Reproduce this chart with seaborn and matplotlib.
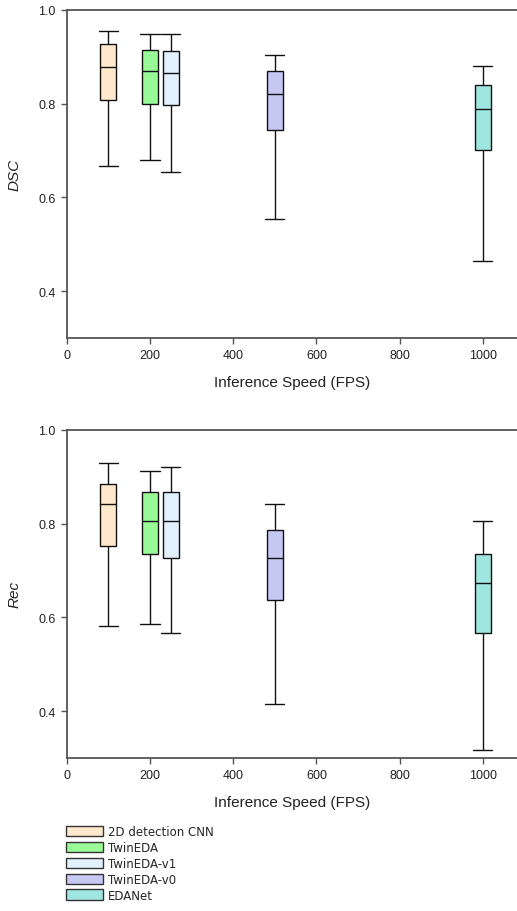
import numpy as np
import pandas as pd
import matplotlib
matplotlib.use("Agg")
import matplotlib.pyplot as plt
from matplotlib.patches import Patch
import seaborn as sns

# Models and their inference speed (FPS)
models = ["2D detection CNN", "TwinEDA", "TwinEDA-v1", "TwinEDA-v0", "EDANet"]
fps = [100, 200, 250, 500, 1000]

# Five-number summaries per model: [min, Q1, median, Q3, max]
dsc_2d = [0.667, 0.808, 0.877, 0.927, 0.955]
dsc_twin = [0.679, 0.799, 0.869, 0.914, 0.948]
dsc_v1 = [0.655, 0.797, 0.864, 0.913, 0.948]
dsc_v0 = [0.553, 0.744, 0.821, 0.870, 0.904]
dsc_eda = [0.465, 0.701, 0.788, 0.839, 0.881]

rec_2d = [0.582, 0.752, 0.841, 0.885, 0.930]
rec_twin = [0.585, 0.734, 0.806, 0.868, 0.911]
rec_v1 = [0.566, 0.726, 0.806, 0.868, 0.920]
rec_v0 = [0.415, 0.636, 0.726, 0.787, 0.841]
rec_eda = [0.317, 0.566, 0.673, 0.734, 0.806]

colors = ["#FFE8CC", "#98FB98", "#E1F1FF", "#C6C8F4", "#A0E6E0"]
palette = dict(zip(models, colors))


def frame(summaries, name):
    rows = []
    for m, f, vals in zip(models, fps, summaries):
        for v in vals:
            rows.append({"model": m, "fps": f, name: v})
    return pd.DataFrame(rows)


dsc_df = frame([dsc_2d, dsc_twin, dsc_v1, dsc_v0, dsc_eda], "DSC")
rec_df = frame([rec_2d, rec_twin, rec_v1, rec_v0, rec_eda], "Rec")

sns.set_theme(style="ticks")
plt.rcParams["font.family"] = ["Liberation Sans", "DejaVu Sans"]

W, H = 517, 912
fig = plt.figure(figsize=(W / 100, H / 100), dpi=100)

def axes_px(left, top, right, bottom):
    return fig.add_axes([left / W, 1 - bottom / H, (right - left) / W, (bottom - top) / H])

ax1 = axes_px(66.7, 10.7, 517, 339)
ax2 = axes_px(66.7, 430.7, 517, 759)

spine_col = "#555555"
for ax, df, col in [(ax1, dsc_df, "DSC"), (ax2, rec_df, "Rec")]:
    sns.boxplot(
        data=df, x="fps", y=col, hue="model", hue_order=models,
        palette=palette, saturation=1, native_scale=True, dodge=False,
        width=0.76, whis=(0, 100), linecolor="#111111", linewidth=1.0,
        capwidths=46, legend=False, ax=ax,
    )
    ax.set_xlim(0, 1082)
    ax.set_ylim(0.3, 1.0)
    ax.set_xticks([0, 200, 400, 600, 800, 1000])
    ax.set_yticks([0.4, 0.6, 0.8, 1.0])
    ax.set_yticklabels(["0.4", "0.6", "0.8", "1.0"])
    ax.set_xlabel("Inference Speed (FPS)", fontsize=11, labelpad=10, color="#222222")
    ax.set_ylabel(col, fontsize=11, style="italic", labelpad=12, color="#222222")
    ax.spines["right"].set_visible(False)
    for s in ["left", "bottom", "top"]:
        ax.spines[s].set_color(spine_col)
        ax.spines[s].set_linewidth(1.3)
    ax.tick_params(axis="both", labelsize=9, length=4, width=1, color=spine_col,
                   pad=4, labelcolor="#222222")

handles = [Patch(facecolor=c, edgecolor="#333333", linewidth=1.0) for c in colors]
fig.legend(
    handles, models, loc="upper left",
    bbox_to_anchor=(66 / W, 1 - 826 / H), frameon=False,
    borderpad=0, borderaxespad=0, handlelength=3.1, handleheight=1.0,
    handletextpad=0.45, labelspacing=0.25,
    prop={"family": "DejaVu Sans", "size": 8.5},
)

fig.savefig("out.png", dpi=100)
